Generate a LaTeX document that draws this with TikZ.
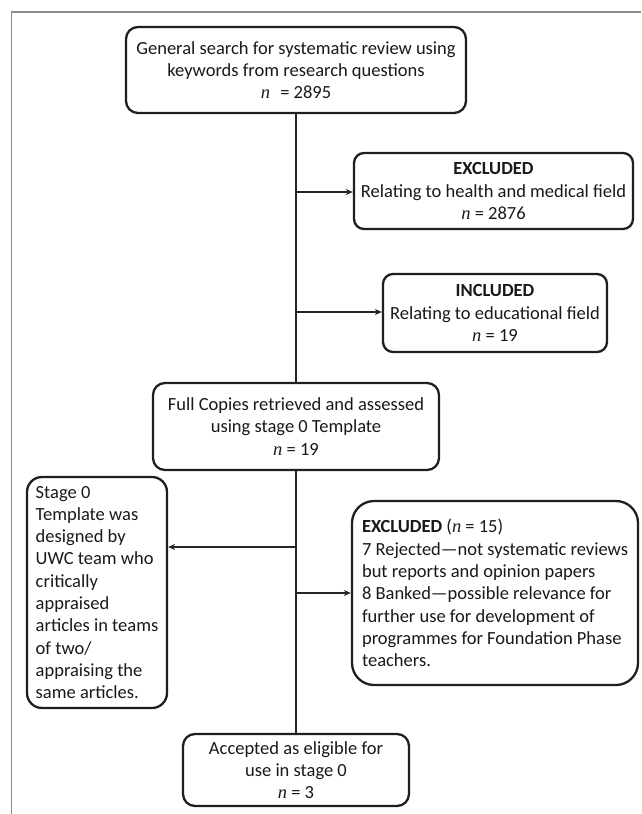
\documentclass[tikz,border=0pt]{standalone}
\usepackage{fontspec}
\setmainfont{Carlito}
\newfontfamily\lserif{Liberation Serif}
\newcommand{\nital}{{\lserif\itshape n}}
\usetikzlibrary{arrows.meta}
\tikzset{
  box/.style={draw=black!88, line width=2.3pt, fill=white, inner sep=4pt,
    font=\fontsize{18.5}{22.3}\selectfont, text=black!90},
  conn/.style={draw=black!85, line width=1.1pt},
  arr/.style={conn, -{Stealth[length=7pt,width=6pt]}},
  frameline/.style={draw=black!45, line width=1.6pt}
}
\begin{document}
\begin{tikzpicture}[x=1pt,y=-1pt]
\useasboundingbox (0,0) rectangle (641,814);
\draw[frameline] (11.5,814) -- (11.5,12) -- (641,12);

\node[box, rounded corners=12pt, minimum width=340pt, minimum height=86pt, align=center] (b1) at (296,70)
  {General search for systematic review using\\keywords from research questions\\\nital\hspace{0.55em}= 2895};
\node[box, rounded corners=10pt, minimum width=279pt, minimum height=76pt, align=center] (b2) at (493.5,191)
  {\textbf{EXCLUDED}\\Relating to health and medical field\\\nital{} = 2876};
\node[box, rounded corners=10pt, minimum width=224pt, minimum height=78pt, align=center] (b3) at (495,313)
  {\textbf{INCLUDED}\\Relating to educational field\\\nital{} = 19};
\node[box, rounded corners=12pt, minimum width=286pt, minimum height=87pt, align=center] (b4) at (296,426.5)
  {Full Copies retrieved and assessed\\using stage 0 Template\\\nital{} = 19};
\node[box, rounded corners=15pt, minimum width=140pt, minimum height=231pt, align=left] (b5) at (97,592.5)
  {Stage 0\\Template was\\designed by\\UWC team who\\critically\\appraised\\articles in teams\\of two/\\appraising the\\same articles.};
\node[box, rounded corners=22pt, minimum width=286pt, minimum height=184pt, align=left] (b6) at (495,593)
  {\textbf{EXCLUDED} (\nital{} = 15)\\7 Rejected—not systematic reviews\\but reports and opinion papers\\8 Banked—possible relevance for\\further use for development of\\programmes for Foundation Phase\\teachers.};
\node[box, rounded corners=12pt, minimum width=226pt, minimum height=72pt, align=center] (b7) at (296,770)
  {Accepted as eligible for\\use in stage 0\\\nital{} = 3};

\coordinate (j1) at (296,192);
\coordinate (j2) at (296,312);
\coordinate (j3) at (296,547);
\coordinate (j4) at (296,593);

\draw[conn] (b1.south) -- (b4.north);
\draw[conn] (b4.south) -- (b7.north);
\draw[arr] (j1) -- (j1 -| b2.west);
\draw[arr] (j2) -- (j2 -| b3.west);
\draw[arr] (j3) -- (j3 -| b5.east);
\draw[arr] (j4) -- (j4 -| b6.west);
\end{tikzpicture}
\end{document}
